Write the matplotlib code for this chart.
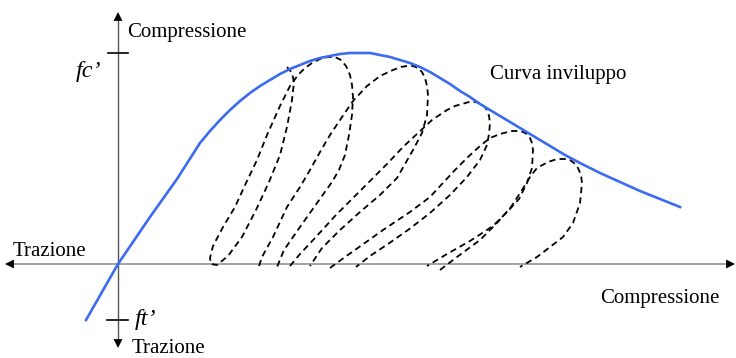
import matplotlib
matplotlib.use('Agg')
import matplotlib.pyplot as plt

# Curva inviluppo del calcestruzzo (deformazione, tensione) in unita' arbitrarie
eps_inv = [-32, 0, 32, 59, 82, 92, 102, 112, 122, 132, 142, 152, 162, 172,
           182, 192, 202, 212, 222, 232, 242, 252, 262, 272, 282, 292, 302,
           312, 322, 332, 342, 352, 362, 372, 382, 392, 402, 412, 422, 432,
           447, 462, 482, 502, 522, 542, 562]
sig_inv = [-56, 0, 47, 85, 121, 133, 144, 154, 163, 171, 178, 184, 190, 195,
           199, 203, 206, 208, 210, 211, 211, 211, 209, 207, 204, 201, 197,
           192, 186, 180, 173, 167, 160, 154, 148, 142, 136, 130, 124, 118,
           109, 101, 91, 82, 73, 65, 57]

# Cicli di scarico e ricarico
eps_ciclo1 = [169, 174, 176, 174, 169, 162, 151, 138, 124, 110, 99, 93, 92, 95,
              105, 117, 128, 139, 149, 162, 172, 180, 187, 194, 202, 210, 217,
              223, 228, 232, 234, 235, 234, 231, 227, 221, 214, 199, 182, 166,
              159]
sig_ciclo1 = [197, 191, 182, 164, 137, 109, 82, 54, 27, 8, -1, 0, 6, 18,
              37, 57, 81, 104, 129, 158, 178, 189, 196, 201, 205, 207, 207,
              204, 198, 189, 179, 167, 149, 129, 109, 94, 82, 61, 37, 14,
              -3]

eps_ciclo2 = [141, 144, 155, 169, 182, 192, 202, 212, 222, 235, 249, 262, 275,
              283, 289, 295, 300, 304, 307, 309, 310, 309, 304, 295, 279, 262,
              242, 222, 204, 192]
sig_ciclo2 = [-2, 7, 27, 57, 77, 94, 112, 129, 144, 163, 178, 188, 194,
              197, 198, 198, 196, 192, 186, 178, 169, 149, 131, 114, 86, 69,
              52, 34, 16, -2]

eps_ciclo3 = [172, 182, 197, 217, 237, 252, 269, 285, 300, 314, 329, 337, 344,
              351, 357, 362, 366, 369, 371, 372, 371, 369, 362, 349, 332, 312,
              290, 270, 252, 238]
sig_ciclo3 = [-2, 10, 26, 48, 68, 83, 100, 117, 131, 144, 154, 158, 160,
              162, 162, 161, 158, 154, 148, 141, 130, 119, 104, 87, 69, 51,
              34, 20, 8, -3]

eps_ciclo4 = [212, 227, 244, 265, 292, 312, 324, 337, 350, 362, 372, 382, 394,
              400, 405, 409, 412, 414, 415, 414, 409, 401, 390, 375, 352, 329,
              309]
sig_ciclo4 = [-4, 7, 19, 34, 52, 67, 80, 94, 107, 118, 126, 130, 133,
              133, 132, 130, 126, 121, 114, 96, 81, 65, 53, 38, 23, 10,
              -2]

eps_ciclo5 = [322, 339, 362, 379, 393, 404, 412, 419, 430, 436, 442, 448, 452,
              456, 460, 463, 464, 462, 455, 445, 432, 419, 402]
sig_ciclo5 = [-6, 7, 24, 41, 57, 74, 87, 96, 102, 104, 105, 105, 104,
              101, 96, 89, 81, 61, 41, 27, 17, 7, -3]

cicli = [(eps_ciclo1, sig_ciclo1), (eps_ciclo2, sig_ciclo2),
         (eps_ciclo3, sig_ciclo3), (eps_ciclo4, sig_ciclo4),
         (eps_ciclo5, sig_ciclo5)]

FC = 211    # resistenza a compressione fc'
FT = -56    # resistenza a trazione ft'

plt.rcParams['font.family'] = 'Liberation Serif'
plt.rcParams['lines.scale_dashes'] = False

fig = plt.figure(figsize=(7.36, 3.58), dpi=100)
ax = fig.add_axes([0, 0, 1, 1])
ax.set_xlim(-118, 618)
ax.set_ylim(-94, 264)
ax.axis('off')


def freccia(punta, coda):
    ax.annotate('', xy=punta, xytext=coda,
                arrowprops=dict(arrowstyle='-|>', color='black', lw=0,
                                mutation_scale=16, shrinkA=0, shrinkB=0))


# assi
ax.plot([-108, 612], [0, 0], color='#8a8a8a', lw=1.1, zorder=1)
ax.plot([0, 0], [-78, 246], color='#555555', lw=1.0, zorder=1)
freccia((-113, 0), (-100, 0))
freccia((617, 0), (604, 0))
freccia((0, 252), (0, 239))
freccia((0, -84), (0, -71))

# tacche fc' e ft'
ax.plot([-10, 10], [FC, FC], color='black', lw=1.2)
ax.plot([-11, 10], [FT, FT], color='black', lw=1.2)

for eps, sig in cicli:
    ax.plot(eps, sig, color='black', lw=1.3, linestyle=(0, (4.5, 3.0)),
            zorder=2, solid_joinstyle='round', dash_joinstyle='round')

ax.plot(eps_inv, sig_inv, color='#3b6cf0', lw=1.9, zorder=3,
        solid_joinstyle='round')

testo = dict(fontsize=15, va='baseline')
ax.text(9, 227, 'Compressione', ha='left', **testo)
ax.text(-105, 8, 'Trazione', ha='left', **testo)
ax.text(14, -89, 'Trazione', ha='left', **testo)
ax.text(482, -39, 'Compressione', ha='left', **testo)
ax.text(372, 185, 'Curva inviluppo', ha='left', **testo)
ax.text(-42, 187, 'fc\u2019', ha='left', fontsize=17.5, style='italic',
        va='baseline')
ax.text(17, -61, 'ft\u2019', ha='left', fontsize=17.5, style='italic',
        va='baseline')

fig.savefig('out.png', dpi=100)
